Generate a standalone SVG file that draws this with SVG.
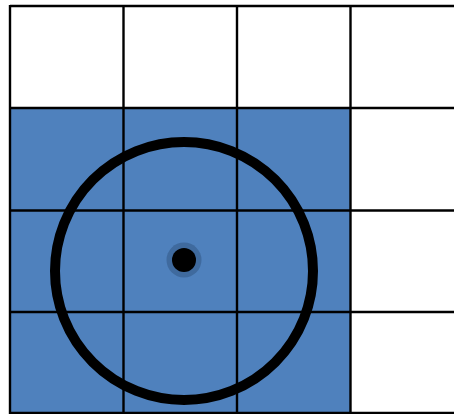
<svg xmlns="http://www.w3.org/2000/svg" width="454" height="414" viewBox="0 0 454 414">
<style>
.grid line{stroke:#000;stroke-width:2.4}
</style>
<rect width="454" height="414" fill="#fff"/>
<rect id="blue" x="10" y="108" width="340.5" height="305" fill="#4F81BD"/>
<g class="grid" id="grid">
<line x1="10" y1="6" x2="454" y2="6"/>
<line x1="10" y1="108" x2="454" y2="108"/>
<line x1="10" y1="210.5" x2="454" y2="210.5"/>
<line x1="10" y1="312" x2="454" y2="312"/>
<line x1="10" y1="413" x2="454" y2="413"/>
<line x1="10" y1="5" x2="10" y2="414"/>
<line x1="123.5" y1="5" x2="123.5" y2="414"/>
<line x1="237" y1="5" x2="237" y2="414"/>
<line x1="350.5" y1="5" x2="350.5" y2="414"/>
</g>
<circle id="ring" cx="184" cy="271" r="129" fill="none" stroke="#000" stroke-width="10"/>
<g id="dot">
<circle cx="184" cy="260" r="17.5" fill="#3F6A9E"/>
<circle cx="184" cy="260" r="12" fill="#000"/>
</g>
</svg>
